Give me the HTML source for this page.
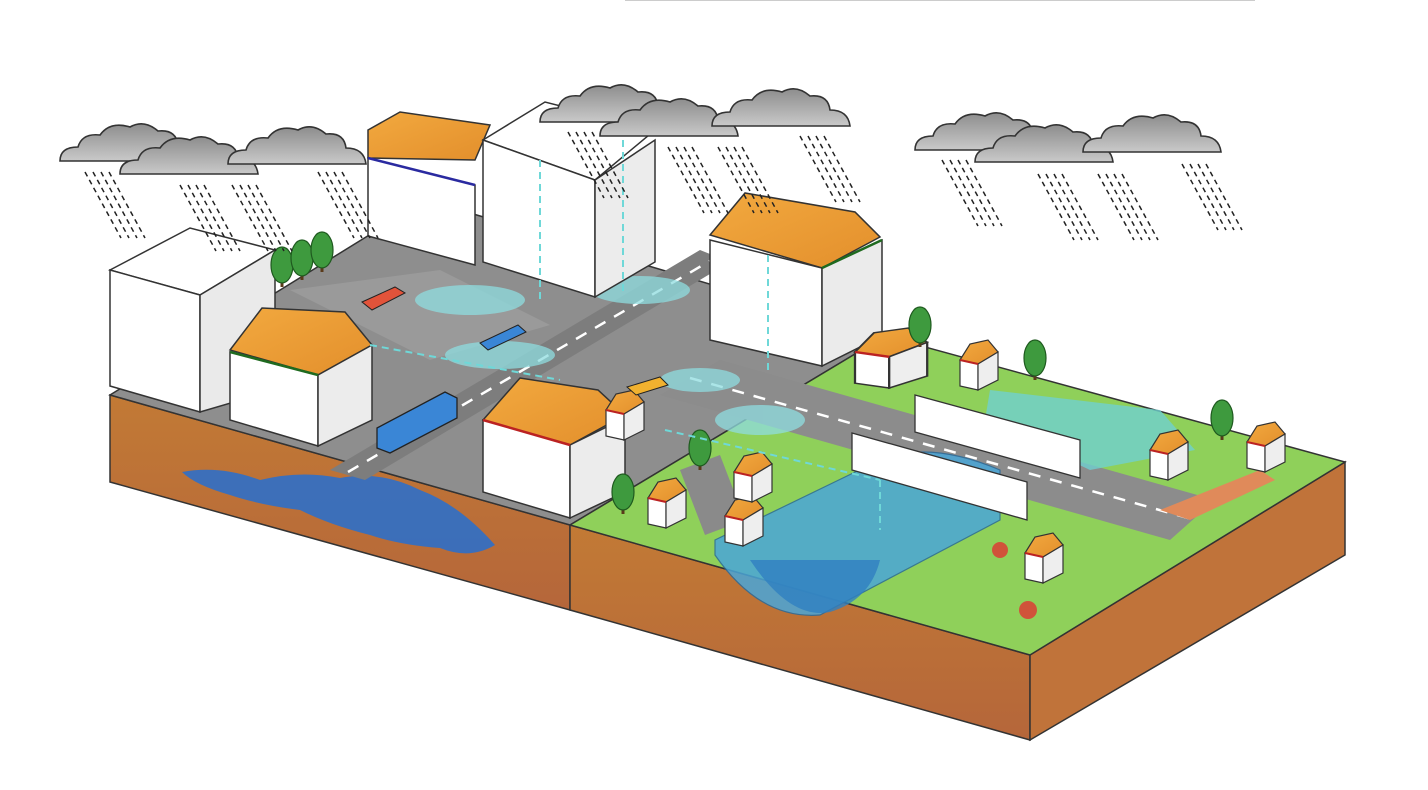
<!DOCTYPE html>
<html><head><meta charset="utf-8"><style>
html,body{margin:0;padding:0;background:#fff;width:1428px;height:790px;overflow:hidden}
svg{display:block}
</style></head><body>
<svg width="1428" height="790" viewBox="0 0 1428 790" xmlns="http://www.w3.org/2000/svg">
<defs>
<linearGradient id="soil" x1="0" y1="0" x2="0" y2="1"><stop offset="0" stop-color="#c27a35"/><stop offset="1" stop-color="#b5663a"/></linearGradient>
<linearGradient id="roof" x1="0" y1="0" x2="1" y2="1"><stop offset="0" stop-color="#f2a93f"/><stop offset="1" stop-color="#e38f2c"/></linearGradient>
<linearGradient id="cloud" x1="0" y1="0" x2="0" y2="1"><stop offset="0" stop-color="#8d8d8d"/><stop offset="1" stop-color="#c9c9c9"/></linearGradient>
<g id="cl"><path d="M0,36 Q0,22 18,22 Q22,8 40,10 Q50,-4 70,2 Q84,-6 98,6 Q116,4 118,20 Q136,20 138,36 Z" fill="url(#cloud)" stroke="#333" stroke-width="1.6"/></g>
<g id="rain" stroke="#222" stroke-width="1.5" stroke-dasharray="5,4"><line x1="0" y1="0" x2="36" y2="66"/><line x1="8" y1="0" x2="44" y2="66"/><line x1="16" y1="0" x2="52" y2="66"/><line x1="24" y1="0" x2="60" y2="66"/></g>
<g id="tree"><rect x="-1.5" y="8" width="3" height="14" fill="#5a3a1a"/><ellipse cx="0" cy="0" rx="11" ry="18" fill="#3e9a3e" stroke="#1f5a1f" stroke-width="1.2"/></g>
<g id="hs"><polygon points="0,20 10,4 28,0 38,12 18,24" fill="url(#roof)" stroke="#333" stroke-width="1.2"/><polygon points="0,20 18,24 18,50 0,46" fill="#fff" stroke="#333" stroke-width="1.2"/><polygon points="18,24 38,12 38,40 18,50" fill="#eee" stroke="#333" stroke-width="1.2"/><line x1="0" y1="20" x2="18" y2="24" stroke="#b22" stroke-width="2"/></g>
</defs>

<polygon points="110,395 570,525 570,610 110,482" fill="url(#soil)" stroke="#333" stroke-width="1.5"/>
<polygon points="570,525 1030,655 1030,740 570,610" fill="url(#soil)" stroke="#333" stroke-width="1.5"/>
<polygon points="1030,655 1345,462 1345,555 1030,740" fill="#c0733a" stroke="#333" stroke-width="1.5"/>
<path d="M182,472 Q220,465 260,480 Q300,470 340,478 Q380,470 420,490 Q460,505 495,545 Q470,560 440,548 Q400,545 370,535 Q330,525 300,510 Q260,505 230,495 Q195,485 182,472 Z" fill="#2f6fc8" opacity="0.9"/>

<polygon points="110,395 426,200 885,336 570,525" fill="#8e8e8e" stroke="#333" stroke-width="1.5"/>
<polygon points="570,525 885,336 1345,462 1030,655" fill="#8fd05a" stroke="#333" stroke-width="1.5"/>
<polygon points="660,395 720,360 1215,500 1170,540" fill="#8c8c8c"/>
<line x1="690" y1="378" x2="1195" y2="520" stroke="#fff" stroke-width="2.5" stroke-dasharray="12,10"/>
<polygon points="330,470 700,250 730,262 365,480" fill="#7d7d7d"/>
<line x1="348" y1="472" x2="715" y2="258" stroke="#fff" stroke-width="2.5" stroke-dasharray="12,10"/>
<polygon points="290,290 440,270 550,325 430,360" fill="#9a9a9a"/>
<polygon points="680,470 720,455 745,520 705,535" fill="#8a8a8a"/>
<polygon points="1160,510 1260,470 1275,480 1190,520" fill="#e08a5a"/>
<g fill="#8fdde0" opacity="0.75">
<ellipse cx="470" cy="300" rx="55" ry="15"/><ellipse cx="500" cy="355" rx="55" ry="14"/><ellipse cx="640" cy="290" rx="50" ry="14"/><ellipse cx="700" cy="380" rx="40" ry="12"/><ellipse cx="760" cy="420" rx="45" ry="15"/>
</g>
<polygon points="990,390 1160,410 1195,450 1090,470 985,420" fill="#6fd0d0" opacity="0.8"/>
<path d="M715,555 Q760,620 820,615 L1000,520 L1000,470 Q930,440 880,460 L715,540 Z" fill="#4aa6d8" opacity="0.85" stroke="#2a6a9a" stroke-width="1.2"/>
<path d="M750,560 Q790,620 830,612 Q870,600 880,560" fill="#2f7fc0" opacity="0.8"/>

<polygon points="915,395 1080,440 1080,478 915,432" fill="#fff" stroke="#333" stroke-width="1.3"/>
<polygon points="852,433 1027,482 1027,520 852,470" fill="#fff" stroke="#333" stroke-width="1.3"/>

<g stroke="#333" stroke-width="1.5">
<polygon points="110,270 190,228 275,250 200,295" fill="#fff"/>
<polygon points="110,270 200,295 200,412 110,386" fill="#fff"/>
<polygon points="200,295 275,250 275,390 200,412" fill="#eaeaea"/>
<polygon points="368,130 400,112 490,125 475,160 368,158" fill="url(#roof)"/>
<polygon points="368,158 475,185 475,265 368,236" fill="#fff"/>
<line x1="368" y1="158" x2="475" y2="185" stroke="#2a2aa0" stroke-width="2.5"/>
<polygon points="483,140 545,102 655,130 595,180" fill="#fff"/>
<polygon points="483,140 595,180 595,297 483,262" fill="#fff"/>
<polygon points="595,180 655,140 655,262 595,297" fill="#ececec"/>
<polygon points="710,235 745,193 855,212 880,237 822,268" fill="url(#roof)"/>
<polygon points="710,240 822,268 822,366 710,340" fill="#fff"/>
<polygon points="822,268 882,240 882,336 822,366" fill="#ebebeb"/>
<polygon points="230,350 262,308 345,312 372,345 318,375" fill="url(#roof)"/>
<polygon points="230,352 318,375 318,446 230,420" fill="#fff"/>
<polygon points="318,375 372,345 372,420 318,446" fill="#ececec"/>
<polygon points="483,420 520,378 598,390 625,415 570,445" fill="url(#roof)"/>
<polygon points="483,420 570,445 570,518 483,492" fill="#fff"/>
<polygon points="570,445 625,418 625,492 570,518" fill="#ececec"/>
</g>
<line x1="230" y1="352" x2="318" y2="375" stroke="#1f6a1f" stroke-width="2.5"/>
<line x1="483" y1="420" x2="570" y2="445" stroke="#b22" stroke-width="2.5"/>
<line x1="822" y1="268" x2="882" y2="240" stroke="#1f6a1f" stroke-width="2.5"/>

<use href="#hs" x="606" y="390"/>
<use href="#hs" x="648" y="478"/>
<use href="#hs" x="725" y="496"/>
<use href="#hs" x="734" y="452"/>
<use href="#hs" x="960" y="340"/>
<use href="#hs" x="1150" y="430"/>
<use href="#hs" x="1247" y="422"/>
<use href="#hs" x="1025" y="533"/>
<g transform="translate(855,328) scale(1.9,1.2)"><use href="#hs"/></g>
<use href="#tree" x="282" y="265"/><use href="#tree" x="302" y="258"/><use href="#tree" x="322" y="250"/>
<use href="#tree" x="920" y="325"/><use href="#tree" x="1035" y="358"/><use href="#tree" x="1222" y="418"/>
<use href="#tree" x="700" y="448"/><use href="#tree" x="623" y="492"/>
<circle cx="1000" cy="550" r="8" fill="#d0533a"/><circle cx="1028" cy="610" r="9" fill="#d0533a"/>

<polygon points="377,428 445,392 457,398 457,418 390,453 377,448" fill="#3a86d6" stroke="#222" stroke-width="1.3"/>
<polygon points="362,302 395,287 405,293 372,310" fill="#e2533a" stroke="#222"/>
<polygon points="480,343 518,325 526,332 488,350" fill="#3a86d6" stroke="#222"/>
<polygon points="627,387 660,377 668,385 636,395" fill="#f1b12f" stroke="#222"/>

<g stroke="#6fd8d8" stroke-width="2" stroke-dasharray="7,5" fill="none">
<line x1="540" y1="160" x2="540" y2="300"/><line x1="623" y1="140" x2="623" y2="295"/><line x1="768" y1="255" x2="768" y2="370"/>
<line x1="370" y1="345" x2="560" y2="380"/><line x1="665" y1="430" x2="880" y2="480"/><path d="M880,480 L880,530"/>
</g>

<use href="#cl" x="60" y="125"/><use href="#cl" x="120" y="138"/><use href="#cl" x="228" y="128"/>
<use href="#cl" x="540" y="86"/><use href="#cl" x="600" y="100"/><use href="#cl" x="712" y="90"/>
<use href="#cl" x="915" y="114"/><use href="#cl" x="975" y="126"/><use href="#cl" x="1083" y="116"/>
<use href="#rain" x="85" y="172"/><use href="#rain" x="180" y="185"/><use href="#rain" x="232" y="185"/><use href="#rain" x="318" y="172"/>
<use href="#rain" x="568" y="132"/><use href="#rain" x="668" y="147"/><use href="#rain" x="718" y="147"/><use href="#rain" x="800" y="136"/>
<use href="#rain" x="942" y="160"/><use href="#rain" x="1038" y="174"/><use href="#rain" x="1098" y="174"/><use href="#rain" x="1182" y="164"/>
<line x1="625" y1="0" x2="1255" y2="0" stroke="#ccc" stroke-width="2"/>
</svg>
</body></html>
